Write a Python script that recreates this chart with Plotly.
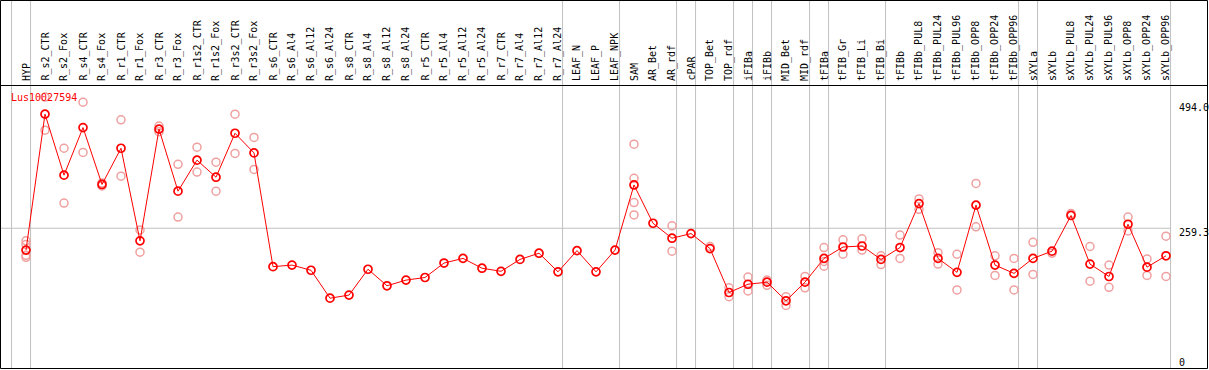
import plotly.graph_objects as go

categories = ["HYP", "R_s2_CTR", "R_s2_Fox", "R_s4_CTR", "R_s4_Fox", "R_r1_CTR", "R_r1_Fox",
              "R_r3_CTR", "R_r3_Fox", "R_r1s2_CTR", "R_r1s2_Fox", "R_r3s2_CTR", "R_r3s2_Fox",
              "R_s6_CTR", "R_s6_Al4", "R_s6_Al12", "R_s6_Al24", "R_s8_CTR", "R_s8_Al4",
              "R_s8_Al12", "R_s8_Al24", "R_r5_CTR", "R_r5_Al4", "R_r5_Al12", "R_r5_Al24",
              "R_r7_CTR", "R_r7_Al4", "R_r7_Al12", "R_r7_Al24", "LEAF_N", "LEAF_P", "LEAF_NPK",
              "SAM", "AR_Bet", "AR_rdf", "cPAR", "TOP_Bet", "TOP_rdf", "iFIBa", "iFIBb",
              "MID_Bet", "MID_rdf", "tFIBa", "tFIB_Gr", "tFIB_Li", "tFIB_Bi", "tFIBb",
              "tFIBb_PUL8", "tFIBb_PUL24", "tFIBb_PUL96", "tFIBb_OPP8", "tFIBb_OPP24",
              "tFIBb_OPP96", "sXYLa", "sXYLb", "sXYLb_PUL8", "sXYLb_PUL24", "sXYLb_PUL96",
              "sXYLb_OPP8", "sXYLb_OPP24", "sXYLb_OPP96"]

means = [217, 480, 362, 454, 344, 414, 235, 451, 331, 391, 358, 443, 405,
         185, 188, 178, 124, 130, 180, 148, 159, 164, 192, 201, 182, 176, 199, 211, 175,
         216, 175, 217, 343, 269, 240, 249, 220, 135, 151, 155, 119, 155, 201, 223, 225,
         199, 222, 307, 201, 174, 304, 188, 172, 201, 215, 284, 190, 166, 267, 184, 206]

replicates = [
    [235, 228, 207, 203], [513, 449], [414, 308], [503, 406], [347, 341], [469, 360],
    [256, 213], [457, 446], [383, 281], [416, 368], [387, 331], [480, 404], [435, 373],
    [], [], [], [], [], [], [], [], [], [], [], [], [], [], [], [],
    [], [], [],
    [422, 356, 309, 285], [], [264, 215], [], [224], [144, 127], [165, 138], [159, 149],
    [127, 110], [166, 144], [222, 195, 186], [237, 209], [239, 217], [206, 189],
    [246, 201], [316, 296], [212, 190], [209, 140], [346, 262], [206, 168], [201, 140],
    [232, 170], [211], [288], [224, 157], [188, 145], [281, 254], [200, 168], [244, 166],
]

group_ends = [-1, 0, 28, 31, 34, 35, 37, 38, 39, 41, 42, 45, 52, 53, 60]
gene = "Lus10027594"
tick_vals = [494.0, 259.3, 0]
tick_text = ["494.0", "259.3", "0"]
ref_line = 259.3

W, H = 1209, 370


def py(p):  # pixel row -> paper y
    return (H - p) / H


def px(p):  # pixel column -> paper x
    return p / W


rep_x, rep_y = [], []
for i, reps in enumerate(replicates):
    for v in reps:
        rep_x.append(i)
        rep_y.append(v)

fig = go.Figure()
fig.add_trace(go.Scatter(
    x=rep_x, y=rep_y, mode="markers",
    marker=dict(symbol="circle-open", size=8, color="#f0a0a0", line=dict(width=1.5)),
    hoverinfo="skip", showlegend=False))
fig.add_trace(go.Scatter(
    x=list(range(len(categories))), y=means, mode="lines+markers",
    line=dict(color="#ff0000", width=1),
    marker=dict(symbol="circle-open", size=8, color="#ff0000", line=dict(width=1.7)),
    text=categories, showlegend=False))

shapes = []
for g in group_ends:
    shapes.append(dict(type="line", xref="x", yref="paper", x0=g + 0.24, x1=g + 0.24,
                       y0=py(368), y1=py(0), line=dict(color="#c0c0c0", width=1),
                       layer="below"))
shapes.append(dict(type="line", xref="paper", yref="y", x0=px(0), x1=px(1170.5),
                   y0=ref_line, y1=ref_line, line=dict(color="#c0c0c0", width=1),
                   layer="below"))
shapes.append(dict(type="line", xref="paper", yref="paper", x0=0, x1=px(1208),
                   y0=py(85.5), y1=py(85.5), line=dict(color="black", width=1)))
shapes.append(dict(type="rect", xref="paper", yref="paper", x0=px(0.5), x1=px(1207.5),
                   y0=py(368.5), y1=py(0.5), line=dict(color="black", width=1)))

annotations = []
for i, c in enumerate(categories):
    annotations.append(dict(x=i, y=py(83), xref="x", yref="paper", text=c,
                            textangle=-90, xanchor="center", yanchor="bottom",
                            showarrow=False,
                            font=dict(family="DejaVu Sans Mono", size=10, color="black")))
annotations.append(dict(x=px(9), y=py(97), xref="paper", yref="paper", text=gene,
                        xanchor="left", yanchor="middle", showarrow=False,
                        font=dict(family="DejaVu Sans Mono", size=10, color="#ff0000")))
shifts = [-1, -4, 0]
for v, t, s in zip(tick_vals, tick_text, shifts):
    annotations.append(dict(x=px(1177), y=v, xref="paper", yref="y", text=t,
                            xanchor="left", yanchor="middle", yshift=s, showarrow=False,
                            font=dict(family="DejaVu Sans Mono", size=10, color="black")))

x0 = -26 / 19
y_lo = -(H - 362.3) / 0.517
y_hi = 362.3 / 0.517
fig.update_layout(
    width=W, height=H, margin=dict(l=0, r=0, t=0, b=0),
    paper_bgcolor="white", plot_bgcolor="white",
    xaxis=dict(range=[x0, x0 + W / 19], visible=False, domain=[0, 1]),
    yaxis=dict(range=[y_lo, y_hi], visible=False, domain=[0, 1]),
    shapes=shapes, annotations=annotations, showlegend=False,
)

fig.write_html("out.html", config={"displayModeBar": False},
               post_script="document.body.style.margin='0';document.body.style.padding='0';")
